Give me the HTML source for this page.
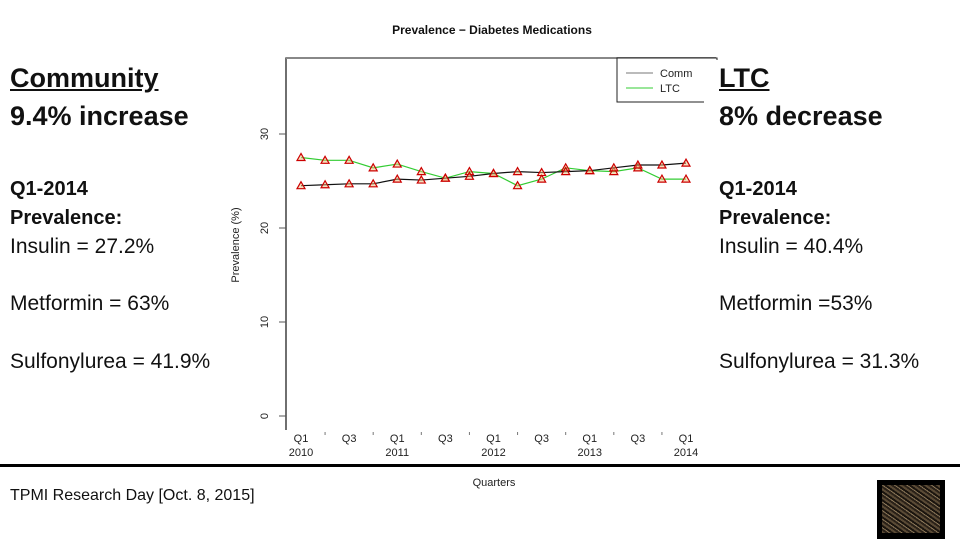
<!DOCTYPE html>
<html><head><meta charset="utf-8"><style>
html,body{margin:0;padding:0;background:#fff;}
body{width:960px;height:540px;position:relative;overflow:hidden;font-family:"Liberation Sans",Arial,sans-serif;color:#111;}
.t{position:absolute;white-space:nowrap;}
.h{font-weight:bold;font-size:27px;}
.b{font-weight:bold;font-size:20px;}
.r{font-size:21px;}
</style></head><body>
<svg id="chart" width="960" height="540" style="position:absolute;left:0;top:0" font-family="Liberation Sans, Arial, sans-serif"></svg>

<div class="t h" style="left:10px;top:63px;text-decoration:underline">Community</div>
<div class="t h" style="left:10px;top:101px">9.4% increase</div>
<div class="t b" style="left:10px;top:178px">Q1-2014</div>
<div class="t b" style="left:10px;top:207px">Prevalence:</div>
<div class="t r" style="left:10px;top:235px">Insulin = 27.2%</div>
<div class="t r" style="left:10px;top:292px">Metformin = 63%</div>
<div class="t r" style="left:10px;top:350px">Sulfonylurea = 41.9%</div>

<div style="position:absolute;left:704px;top:60px;width:256px;height:400px;background:#fff"></div>
<div class="t h" style="left:719px;top:63px;text-decoration:underline">LTC</div>
<div class="t h" style="left:719px;top:101px">8% decrease</div>
<div class="t b" style="left:719px;top:178px">Q1-2014</div>
<div class="t b" style="left:719px;top:207px">Prevalence:</div>
<div class="t r" style="left:719px;top:235px">Insulin = 40.4%</div>
<div class="t r" style="left:719px;top:292px">Metformin =53%</div>
<div class="t r" style="left:719px;top:350px">Sulfonylurea = 31.3%</div>

<div style="position:absolute;left:0;top:464px;width:960px;height:3px;background:#000"></div>
<div class="t" style="left:10px;top:487px;font-size:16px">TPMI Research Day [Oct. 8, 2015]</div>
<div style="position:absolute;left:877px;top:480px;width:68px;height:59px;background:#000">
 <div style="position:absolute;left:5px;top:5px;width:58px;height:48px;background:repeating-linear-gradient(35deg,#5a4a35 0 2px,#2a2118 2px 4px,#8a7658 4px 5px,#1a140e 5px 7px)"></div>
</div>

<script>
const categories=["Q1 2010","Q2 2010","Q3 2010","Q4 2010","Q1 2011","Q2 2011","Q3 2011","Q4 2011","Q1 2012","Q2 2012","Q3 2012","Q4 2012","Q1 2013","Q2 2013","Q3 2013","Q4 2013","Q1 2014"];
const commValues=[24.5,24.6,24.7,24.7,25.2,25.1,25.3,25.5,25.8,26.0,25.9,26.0,26.1,26.4,26.7,26.7,26.9];
const ltcValues=[27.5,27.2,27.2,26.4,26.8,26.0,25.3,26.0,25.8,24.5,25.2,26.4,26.1,26.0,26.4,25.2,25.2];
const yTicks=[0,10,20,30];
const xTickLabels=["Q1","","Q3","","Q1","","Q3","","Q1","","Q3","","Q1","","Q3","","Q1"];
const yearLabels=["2010","","","","2011","","","","2012","","","","2013","","","","2014"];

const NS="http://www.w3.org/2000/svg";
const svg=document.getElementById('chart');
function x(i){return 301+i*(686-301)/(categories.length-1);}
function y(v){return 416-v*9.4;}
function mk(tag,attrs,parent){const e=document.createElementNS(NS,tag);for(const k in attrs)e.setAttribute(k,attrs[k]);(parent||svg).appendChild(e);return e;}

let e;
e=mk('text',{x:492,y:34,'text-anchor':'middle','font-size':12,'font-weight':'bold',fill:'#111'});e.textContent='Prevalence \u2212 Diabetes Medications';


e=mk('path',{d:'M286,430 L286,58 L716,58',fill:'none',stroke:'#222','stroke-width':1.3});


mk('line',{x1:286,y1:58,x2:716,y2:58,stroke:'#888','stroke-width':2});

yTicks.forEach(t=>{
  const l=mk('line',{x1:279,x2:286,y1:y(t),y2:y(t),stroke:'#555'});
  
  
  const tx=mk('text',{x:0,y:0,transform:`translate(268,${y(t)}) rotate(-90)`,'text-anchor':'middle','font-size':11,fill:'#222'});
  tx.textContent=String(t);
  
  
});
e=mk('text',{x:0,y:0,transform:'translate(239,245) rotate(-90)','text-anchor':'middle','font-size':11,fill:'#222'});e.textContent='Prevalence (%)';



categories.forEach((c,i)=>{
  if(i%2===1){const d=mk('line',{x1:x(i),x2:x(i),y1:432,y2:435,stroke:'#777'});}
  if(xTickLabels[i]){const t=mk('text',{x:x(i),y:442,'text-anchor':'middle','font-size':11,fill:'#222'});t.textContent=xTickLabels[i];
    
    }
  if(yearLabels[i]){const t=mk('text',{x:x(i),y:456,'text-anchor':'middle','font-size':11,fill:'#222'});t.textContent=yearLabels[i];
    
    }
});
e=mk('text',{x:494,y:486,'text-anchor':'middle','font-size':11,fill:'#222'});e.textContent='Quarters';



function series(vals,color,name){
  const p=mk('polyline',{points:vals.map((v,i)=>x(i)+','+y(v)).join(' '),fill:'none',stroke:color,'stroke-width':1.2});
  
  
  vals.forEach((v,i)=>{
    const cx=x(i),cy=y(v);
    const t=mk('polygon',{points:`${cx},${cy-4} ${cx-4},${cy+3} ${cx+4},${cy+3}`,fill:'#f0c080','fill-opacity':0.5,stroke:'#c00','stroke-width':1.2});
    
    
  });
}
series(ltcValues,'#33cc33','ltc');
series(commValues,'#111','comm');

const lg=mk('g',{});


mk('rect',{x:617,y:58,width:100,height:44,fill:'#fff',stroke:'#222'},lg);
mk('line',{x1:626,x2:653,y1:73,y2:73,stroke:'#777'},lg);
mk('line',{x1:626,x2:653,y1:88,y2:88,stroke:'#33cc33'},lg);
e=mk('text',{x:660,y:77,'font-size':11,fill:'#222'},lg);e.textContent='Comm';


e=mk('text',{x:660,y:92,'font-size':11,fill:'#222'},lg);e.textContent='LTC';


</script>
</body></html>
